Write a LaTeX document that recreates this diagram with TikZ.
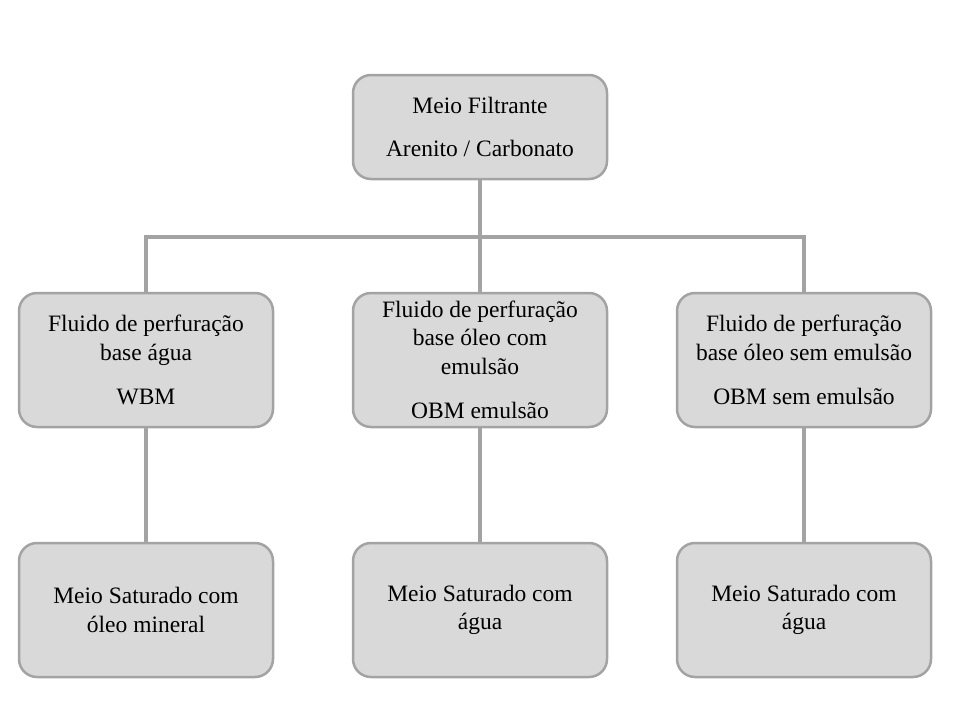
\documentclass[tikz,border=0pt]{standalone}
\usepackage{fontspec}
\setmainfont{Liberation Serif}
\definecolor{boxfill}{HTML}{D9D9D9}
\definecolor{boxline}{HTML}{A3A3A3}
\tikzstyle{bx}=[shape=rectangle,
                rounded corners=18pt,
                draw=boxline,
                fill=boxfill,
                line width=2.5pt,
                minimum width=254pt,
                inner xsep=4pt,
                align=center,
                font=\fontsize{23.5}{28.5}\selectfont]
\tikzstyle{ln}=[draw=boxline,
                line width=3.5pt]
\begin{document}
\begin{tikzpicture}[x=1pt,y=-1pt]
\useasboundingbox (0,0) rectangle (960,720);

% top
\node[bx,minimum height=104pt] (filtro) at (480,127) {Meio Filtrante\\[15pt] Arenito / Carbonato};

% drilling fluids
\node[bx,minimum height=134pt] (wbm) at (146,360)  {Fluido de perfuração\\ base água\\[16pt] WBM};
\node[bx,minimum height=134pt] (obme) at (480,360) {Fluido de perfuração\\ base óleo com\\ emulsão\\[16pt] OBM emulsão};
\node[bx,minimum height=134pt] (obms) at (804,360) {Fluido de perfuração\\ base óleo sem emulsão\\[16pt] OBM sem emulsão};

% saturated media
\node[bx,minimum height=134pt] (sat1) at (146,610) {Meio Saturado com\\ óleo mineral};
\node[bx,minimum height=134pt] (sat2) at (480,610) {Meio Saturado com\\ água};
\node[bx,minimum height=134pt] (sat3) at (804,610) {Meio Saturado com\\ água};

% paths
\coordinate (bus) at (480,237);
\path[ln] (filtro.south) -- (bus)
          (bus) -| (wbm.north)
          (bus) -| (obms.north)
          (bus) -- (obme.north);
\path[ln] (wbm.south) -- (sat1.north)
          (obme.south) -- (sat2.north)
          (obms.south) -- (sat3.north);
\end{tikzpicture}
\end{document}
